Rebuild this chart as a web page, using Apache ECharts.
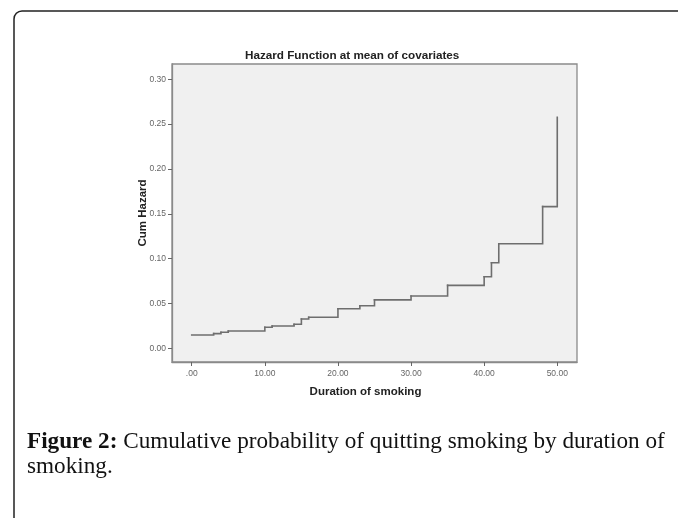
<!DOCTYPE html>
<html>
<head>
<meta charset="utf-8">
<style>
html,body{margin:0;padding:0;background:#fff;}
#c{width:678px;height:518px;}
</style>
<script src="https://cdn.jsdelivr.net/npm/echarts@6/dist/echarts.min.js"></script>
</head>
<body>
<div id="c"></div>
<script>
// Data
var durations = [0, 3, 4, 5, 10, 11, 14, 15, 16, 20, 23, 25, 30, 35, 40, 41, 42, 48, 50];
var cumHazard = [0.0148, 0.0163, 0.0178, 0.0193, 0.0234, 0.0249, 0.0268, 0.0327, 0.0346, 0.0441, 0.0475, 0.0540, 0.0583, 0.0702, 0.0798, 0.0954, 0.1166, 0.1580, 0.2575];
var xTicks = [0, 10, 20, 30, 40, 50];
var yTicks = [0, 0.05, 0.10, 0.15, 0.20, 0.25, 0.30];

var chart = echarts.init(document.getElementById('c'), null, {renderer: 'canvas'});
var pts = durations.map(function (d, i) { return [d, cumHazard[i]]; });

// Step function drawn as one custom element per step (horizontal run, then rise)
function renderStep(params, api) {
  var i = params.dataIndex;
  if (i >= durations.length - 1) return null;
  var p0 = api.coord([durations[i], cumHazard[i]]);
  var p1 = api.coord([durations[i + 1], cumHazard[i]]);
  var p2 = api.coord([durations[i + 1], cumHazard[i + 1]]);
  return {
    type: 'polyline',
    shape: {points: [p0, p1, p2]},
    style: {stroke: '#6e6e6e', lineWidth: 1.6, fill: null, lineCap: 'square', lineJoin: 'miter'}
  };
}

chart.setOption({
  animation: false,
  backgroundColor: '#ffffff',
  grid: {
    left: 172, top: 64, right: 101, bottom: 156,
    show: true, backgroundColor: '#f0f0f0', borderColor: '#8a8a8a', borderWidth: 1.3
  },
  xAxis: {
    type: 'value', min: -2.7, max: 52.7,
    name: 'Duration of smoking', nameLocation: 'middle', nameGap: 24, nameMoveOverlap: false,
    nameTextStyle: {fontFamily: 'Liberation Sans', fontWeight: 'bold', fontSize: 11.5, color: '#222', padding: [0, 18, 0, 0]},
    axisLine: {show: true, onZero: false, lineStyle: {color: '#8a8a8a', width: 1.3}},
    axisTick: {show: true, inside: false, length: 4, lineStyle: {color: '#666'}, customValues: xTicks},
    axisLabel: {fontFamily: 'Liberation Sans', fontSize: 8.5, color: '#666', margin: 7,
      customValues: xTicks,
      formatter: function (v) { return v === 0 ? '.00' : v.toFixed(2); }},
    splitLine: {show: false}
  },
  yAxis: {
    type: 'value', min: -0.0153, max: 0.317,
    name: 'Cum Hazard', nameLocation: 'middle', nameGap: 23, nameMoveOverlap: false,
    nameTextStyle: {fontFamily: 'Liberation Sans', fontWeight: 'bold', fontSize: 11.5, color: '#222'},
    axisLine: {show: true, onZero: false, lineStyle: {color: '#8a8a8a', width: 1.3}},
    axisTick: {show: true, inside: false, length: 4, lineStyle: {color: '#666'}, customValues: yTicks},
    axisLabel: {fontFamily: 'Liberation Sans', fontSize: 8.5, color: '#666', margin: 6,
      customValues: yTicks,
      formatter: function (v) { return v.toFixed(2); }},
    splitLine: {show: false}
  },
  series: [{
    type: 'custom', renderItem: renderStep, data: pts,
    encode: {x: 0, y: 1}, clip: true, silent: true
  }],
  graphic: [
    {type: 'text', left: 245, top: 50,
      style: {text: 'Hazard Function at mean of covariates', fontFamily: 'Liberation Sans', fontWeight: 'bold', fontSize: 11.7, fill: '#222'}},
    {type: 'rect', shape: {x: 14, y: 11, width: 720, height: 600, r: [8, 0, 0, 0]},
      style: {stroke: '#222', lineWidth: 1.5, fill: null}},
    {type: 'text', left: 27, top: 430,
      style: {
        text: '{b|Figure 2:} Cumulative probability of quitting smoking by duration of\nsmoking.',
        fontFamily: 'Liberation Serif', fontSize: 23.2, fill: '#111', lineHeight: 24.5,
        rich: {b: {fontFamily: 'Liberation Serif', fontWeight: 'bold', fontSize: 23.2, fill: '#111', lineHeight: 24.5}}
      }}
  ]
});
</script>
</body>
</html>
